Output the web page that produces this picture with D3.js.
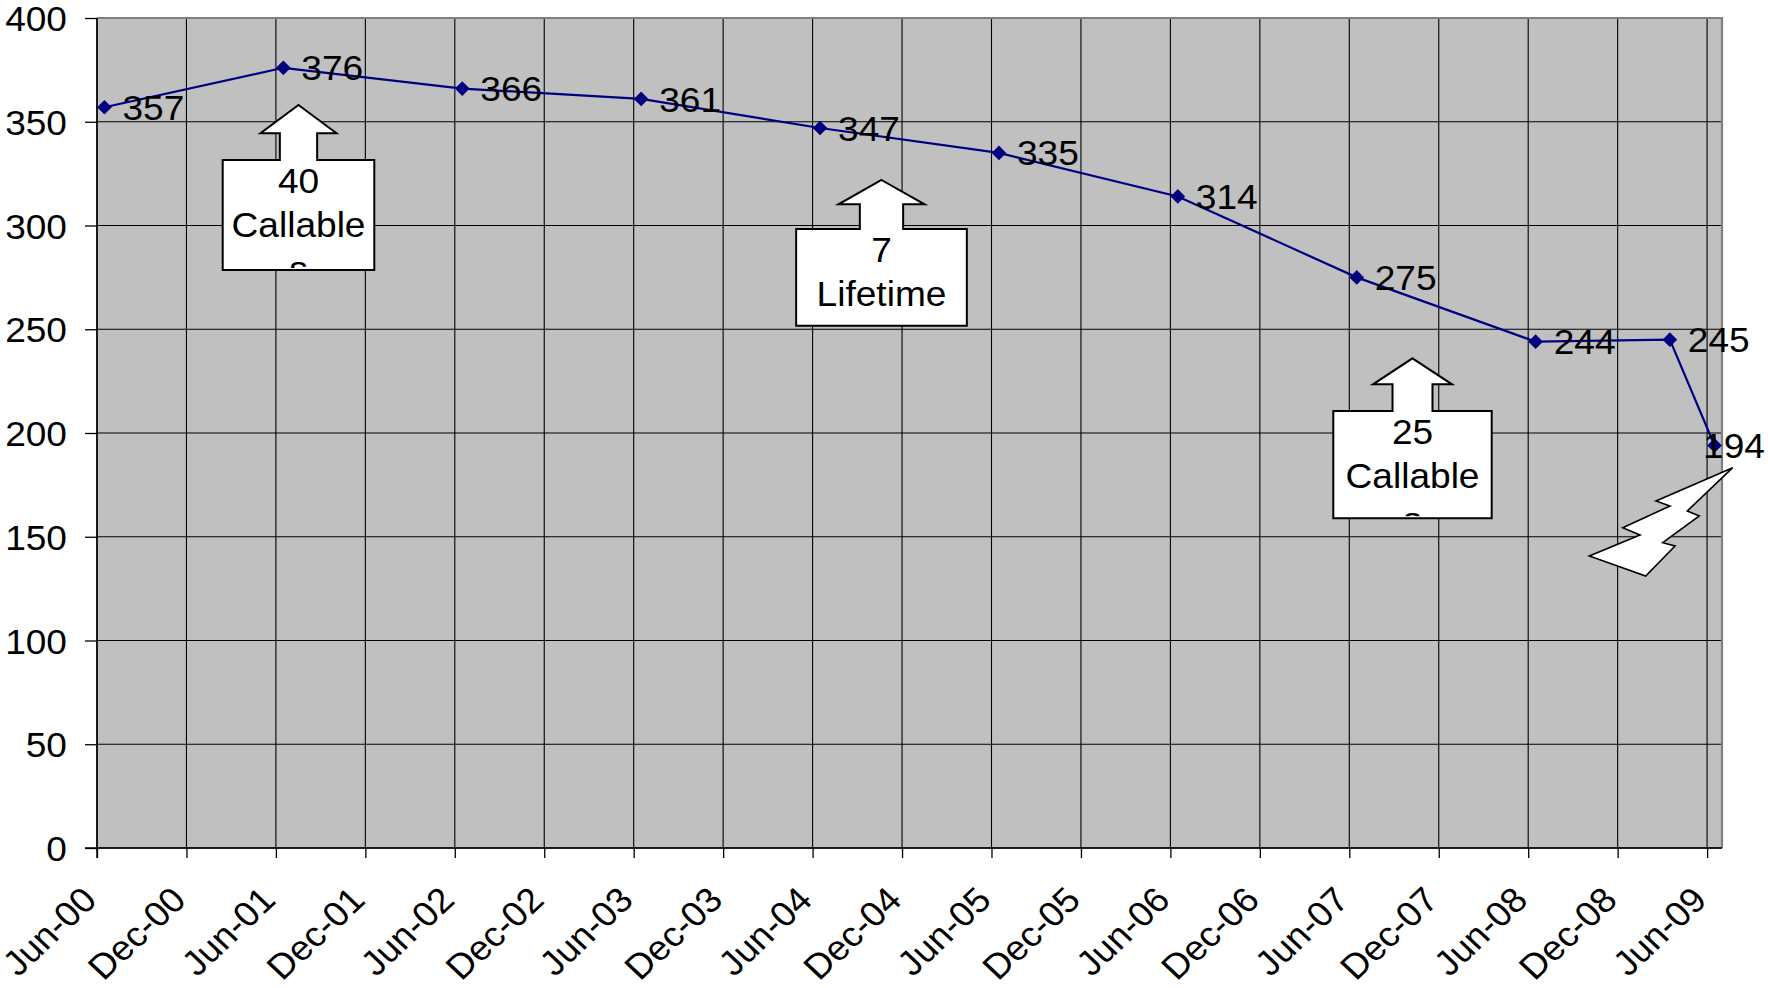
<!DOCTYPE html>
<html>
<head>
<meta charset="utf-8">
<script src="https://cdn.jsdelivr.net/npm/d3@7"></script>
<style>
  html, body { margin: 0; padding: 0; background: #ffffff; }
  svg { display: block; }
  text { font-family: "Liberation Sans", Arial, Helvetica, sans-serif; fill: #000; }
</style>
</head>
<body>
<svg id="chart" width="1768" height="988"></svg>
<script>
// ---- data ----
const periods  = ["Jun-00", "Jun-01", "Jun-02", "Jun-03", "Jun-04", "Jun-05",
                  "Jun-06", "Jun-07", "Jun-08", "Mar-09", "Jun-09"];
const holdings = [357, 376, 366, 361, 347, 335, 314, 275, 244, 245, 194];

const xTickLabels = ["Jun-00", "Dec-00", "Jun-01", "Dec-01", "Jun-02", "Dec-02",
                     "Jun-03", "Dec-03", "Jun-04", "Dec-04", "Jun-05", "Dec-05",
                     "Jun-06", "Dec-06", "Jun-07", "Dec-07", "Jun-08", "Dec-08", "Jun-09"];
const yTickValues = [0, 50, 100, 150, 200, 250, 300, 350, 400];

const noteLines = [["40", "Callable", "s"], ["7", "Lifetime"], ["25", "Callable", "s"]];

// ---- layout ----
const W = 1768, H = 988;
const plot = { left: 97, right: 1722, top: 18, bottom: 848 };
const FONT = 35;
const SX = 1.06;   // slightly wide lettering

const svg = d3.select("#chart");
svg.append("rect").attr("width", W).attr("height", H).attr("fill", "#ffffff");

const parseMonth = d3.utcParse("%b-%y");
const origin = parseMonth(xTickLabels[0]);
const monthIndex = s => d3.utcMonth.count(origin, parseMonth(s));
const tickIdx = xTickLabels.map(monthIndex);

// monthly slots; each value sits in the middle of its month
const x = d3.scaleLinear()
  .domain([0, d3.max(tickIdx) + 1])
  .range([plot.left, plot.right]);
const y = d3.scaleLinear()
  .domain([0, 400])
  .range([plot.bottom, plot.top]);

const points = periods.map((p, i) => ({
  label: p, value: holdings[i],
  cx: x(monthIndex(p) + 0.5), cy: y(holdings[i])
}));

// plot area
svg.append("rect")
  .attr("x", plot.left).attr("y", plot.top)
  .attr("width", plot.right - plot.left).attr("height", plot.bottom - plot.top)
  .attr("fill", "#c0c0c0");

// gridlines
const grid = svg.append("g").attr("stroke", "#000").attr("stroke-width", 1.1);
grid.selectAll("line.h").data(yTickValues).join("line")
  .attr("x1", plot.left).attr("x2", plot.right)
  .attr("y1", d => y(d)).attr("y2", d => y(d));
grid.selectAll("line.v").data(tickIdx).join("line")
  .attr("x1", d => x(d)).attr("x2", d => x(d))
  .attr("y1", plot.top).attr("y2", plot.bottom);

// plot border (top and right)
svg.append("path")
  .attr("d", `M${plot.left},${plot.top}H${plot.right}V${plot.bottom}`)
  .attr("fill", "none").attr("stroke", "#808080").attr("stroke-width", 2.2);

// y axis
const yAxis = svg.append("g")
  .attr("transform", `translate(${plot.left},0)`)
  .call(d3.axisLeft(y).tickValues(yTickValues).tickSize(12).tickSizeOuter(0).tickPadding(18));
yAxis.select(".domain").remove();
yAxis.selectAll(".tick line").attr("stroke", "#000").attr("stroke-width", 1.3);
yAxis.selectAll(".tick text")
  .attr("font-size", FONT).attr("font-family", null).attr("dy", "0.36em")
  .attr("x", -30 / SX)
  .attr("transform", `scale(${SX},1)`);

// x axis, labels slanted up to the tick
const xAxis = svg.append("g")
  .attr("transform", `translate(0,${plot.bottom})`)
  .call(d3.axisBottom(x).tickValues(tickIdx).tickSize(10).tickSizeOuter(0)
    .tickFormat((d, i) => xTickLabels[i]));
xAxis.select(".domain").remove();
xAxis.selectAll(".tick line").attr("stroke", "#000").attr("stroke-width", 1.3);
xAxis.selectAll(".tick text")
  .attr("font-size", FONT).attr("font-family", null)
  .attr("x", 0).attr("y", 0).attr("dy", null)
  .attr("text-anchor", "end")
  .attr("transform", `translate(1,54) scale(${SX},1) rotate(-45)`);

// axis lines
svg.append("line").attr("x1", plot.left).attr("x2", plot.left)
  .attr("y1", plot.top).attr("y2", plot.bottom + 10)
  .attr("stroke", "#000").attr("stroke-width", 1.5);
svg.append("line").attr("x1", plot.left - 12).attr("x2", plot.right)
  .attr("y1", plot.bottom).attr("y2", plot.bottom)
  .attr("stroke", "#000").attr("stroke-width", 1.5);

// series line and markers
svg.append("path")
  .datum(points)
  .attr("d", d3.line().x(d => d.cx).y(d => d.cy))
  .attr("fill", "none").attr("stroke", "#000080").attr("stroke-width", 2.2);

svg.selectAll("path.marker").data(points).join("path")
  .attr("class", "marker")
  .attr("d", d3.symbol(d3.symbolSquare, 108))
  .attr("transform", d => `translate(${d.cx},${d.cy}) rotate(45)`)
  .attr("fill", "#000080");

// value labels, kept inside the chart's right edge
svg.selectAll("text.value").data(points).join("text")
  .attr("class", "value")
  .attr("font-size", FONT)
  .attr("dy", "0.36em")
  .text(d => d.value)
  .attr("transform", function (d) {
    const len = this.getComputedTextLength() * SX;
    const tx = Math.min(d.cx + 18, W - 3 - len);
    return `translate(${tx},${d.cy}) scale(${SX},1)`;
  });

// up-arrow callouts
function upCallout(cx, tipY, headW, headH, stemW, stemH, boxW, boxH, lines, id) {
  const g = svg.append("g");
  const top = tipY + headH + stemH;
  const d = [
    [cx, tipY], [cx + headW / 2, tipY + headH], [cx + stemW / 2, tipY + headH],
    [cx + stemW / 2, top], [cx + boxW / 2, top], [cx + boxW / 2, top + boxH],
    [cx - boxW / 2, top + boxH], [cx - boxW / 2, top], [cx - stemW / 2, top],
    [cx - stemW / 2, tipY + headH], [cx - headW / 2, tipY + headH]
  ];
  g.append("path")
    .attr("d", "M" + d.map(p => p.join(",")).join("L") + "Z")
    .attr("fill", "#ffffff").attr("stroke", "#000").attr("stroke-width", 2)
    .attr("stroke-linejoin", "miter");
  svg.append("clipPath").attr("id", id).append("rect")
    .attr("x", cx - boxW / 2).attr("y", top)
    .attr("width", boxW).attr("height", boxH - 2);
  g.append("g")
    .attr("clip-path", `url(#${id})`)
    .append("text")
    .attr("transform", `translate(${cx},0) scale(${SX},1)`)
    .attr("font-size", FONT).attr("text-anchor", "middle")
    .selectAll("tspan").data(lines).join("tspan")
    .attr("x", 0).attr("y", (t, i) => top + 33.5 + i * 43.7)
    .text(t => t);
}
upCallout(298.5, 105, 76, 28.3, 37.3, 26.7, 151.6, 110, noteLines[0], "clip-note-1");
upCallout(881.5, 180, 86, 24.3, 43.3, 24.7, 170.7, 96.7, noteLines[1], "clip-note-2");
upCallout(1412.5, 358.3, 79, 26, 40, 26.7, 158.4, 107.3, noteLines[2], "clip-note-3");

// lightning bolt beside the last value
const bolt = [[1732.7, 467.7], [1656, 501], [1670, 506], [1622.7, 527.7], [1640, 535],
              [1589.3, 556], [1645.7, 576], [1675, 546], [1662.7, 542.7], [1699.3, 516],
              [1687.3, 511]];
svg.append("path")
  .attr("d", "M" + bolt.map(p => p.join(",")).join("L") + "Z")
  .attr("fill", "#ffffff").attr("stroke", "#000").attr("stroke-width", 1.6)
  .attr("stroke-linejoin", "miter");
</script>
</body>
</html>
